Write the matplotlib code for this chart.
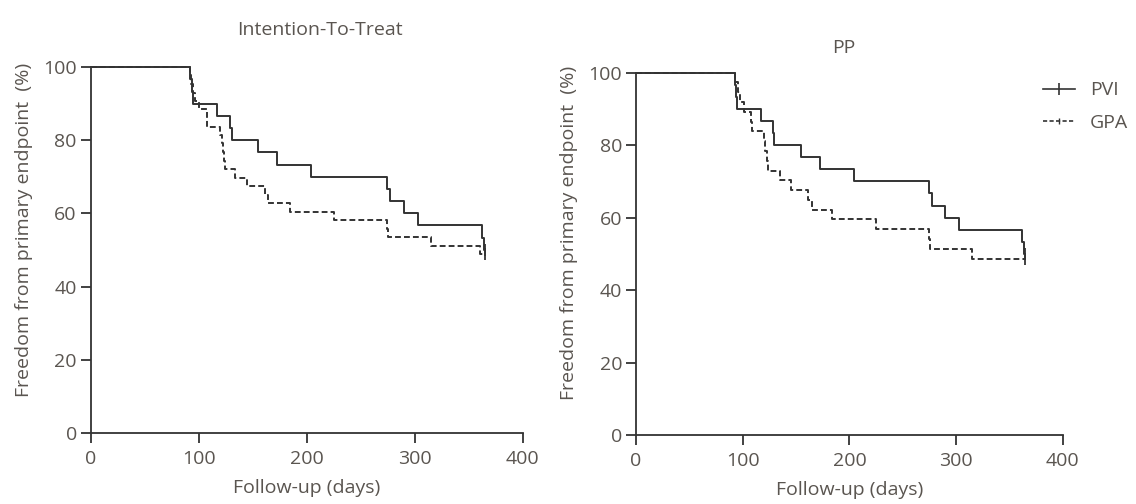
import matplotlib
matplotlib.use("Agg")
import matplotlib.pyplot as plt
from matplotlib.lines import Line2D

# Kaplan-Meier estimates (% event-free) at each event time (days)
follow_up_end = 365

itt_pvi_days = [0, 92, 93.5, 95, 117, 129, 130.5, 155, 172.5, 204, 274.5, 277, 290, 303, 362, 364]
itt_pvi_surv = [100, 96.7, 93.3, 90.0, 86.7, 83.3, 80.0, 76.7, 73.3, 70.0, 66.7, 63.3, 60.0, 56.7, 53.3, 50.0]

itt_gpa_days = [0, 92, 93, 95, 96.5, 100.5, 107.5, 108, 120, 121.5, 122.5, 123.5, 124.5, 134, 145,
                161, 164, 184.5, 225, 274.5, 275, 315, 360.5]
itt_gpa_surv = [100, 97.7, 95.3, 93.0, 90.7, 88.4, 86.0, 83.7, 81.4, 79.1, 76.7, 74.4, 72.1, 69.8, 67.4,
                65.1, 62.8, 60.5, 58.1, 55.8, 53.5, 51.2, 48.8]

pp_pvi_days = [0, 92.5, 93.5, 94.5, 117, 128, 129.6, 155, 172.5, 204, 275, 277, 290, 303, 362, 363.6]
pp_pvi_surv = [100, 96.7, 93.3, 90.0, 86.7, 83.3, 80.0, 76.7, 73.3, 70.0, 66.7, 63.3, 60.0, 56.7, 53.3, 50.0]

pp_gpa_days = [0, 93, 96, 97.5, 101, 108, 108.5, 120, 121, 122.5, 124, 135, 145, 161, 165, 184, 225,
               275, 275.5, 315]
pp_gpa_surv = [100, 97.3, 94.6, 91.9, 89.2, 86.5, 83.8, 81.1, 78.4, 75.7, 73.0, 70.3, 67.6, 64.9, 62.2,
               59.5, 56.8, 54.1, 51.4, 48.6]

panel_titles = ["Intention-To-Treat", "PP"]
group_labels = ["PVI", "GPA"]
x_ticks = [0, 100, 200, 300, 400]
y_ticks = [0, 20, 40, 60, 80, 100]

line_color = "#333333"
text_color = "#5a5550"
font = "Open Sans"
fs = 14

plt.rcParams["font.family"] = [font, "DejaVu Sans"]

fig = plt.figure(figsize=(11.36, 5.04), dpi=100)
ax_l = fig.add_axes([0.0798, 0.1409, 0.3803, 0.7262])
ax_r = fig.add_axes([0.5599, 0.1369, 0.3756, 0.7189])


def km_curve(ax, days, surv, style):
    d = list(days) + [follow_up_end]
    s = list(surv) + [surv[-1]]
    ax.step(d, s, where="post", color=line_color, lw=1.4, ls=style, clip_on=False,
            dashes=(3, 1.6) if style == "--" else (None, None))
    ax.plot([follow_up_end], [surv[-1]], marker="|", ms=8, mew=1.3, color=line_color,
            ls="none", clip_on=False)


def style_axes(ax, title, title_pad, title_x, ylabel_xy):
    ax.set_xlim(0, 400)
    ax.set_ylim(0, 100)
    ax.set_xticks(x_ticks)
    ax.set_yticks(y_ticks)
    for side in ("top", "right"):
        ax.spines[side].set_visible(False)
    for side in ("left", "bottom"):
        ax.spines[side].set_color(line_color)
        ax.spines[side].set_linewidth(1.3)
    ax.tick_params(direction="out", length=7, width=1.3, color=line_color,
                   labelsize=fs, labelcolor=text_color, pad=3)
    ax.tick_params(axis="x", pad=5)
    ax.set_xlabel("Follow-up (days)", fontsize=fs, color=text_color, labelpad=8)
    ax.set_ylabel("Freedom from primary endpoint  (%)", fontsize=fs, color=text_color)
    ax.yaxis.set_label_coords(*ylabel_xy)
    ax.set_title(title, fontsize=fs, color=text_color, pad=title_pad, x=title_x)


km_curve(ax_l, itt_pvi_days, itt_pvi_surv, "-")
km_curve(ax_l, itt_gpa_days, itt_gpa_surv, "--")
km_curve(ax_r, pp_pvi_days, pp_pvi_surv, "-")
km_curve(ax_r, pp_gpa_days, pp_gpa_surv, "--")

style_axes(ax_l, panel_titles[0], 23, 0.531, (-0.133, 0.555))
style_axes(ax_r, panel_titles[1], 14, 0.487, (-0.136, 0.558))

handles = [
    Line2D([], [], color=line_color, lw=1.2, ls="-", marker="|", ms=8, mew=1.2),
    Line2D([], [], color=line_color, lw=1.2, ls="--", dashes=(2.5, 1.4), marker="|", ms=4, mew=1.0),
]
fig.legend(handles, group_labels, loc="upper left", bbox_to_anchor=(0.913, 0.850),
           frameon=False, handlelength=1.65, handletextpad=0.75, labelspacing=0.75,
           fontsize=fs, labelcolor=text_color, numpoints=1, borderaxespad=0, borderpad=0.3)

fig.savefig("out.png", dpi=100, facecolor="white")
